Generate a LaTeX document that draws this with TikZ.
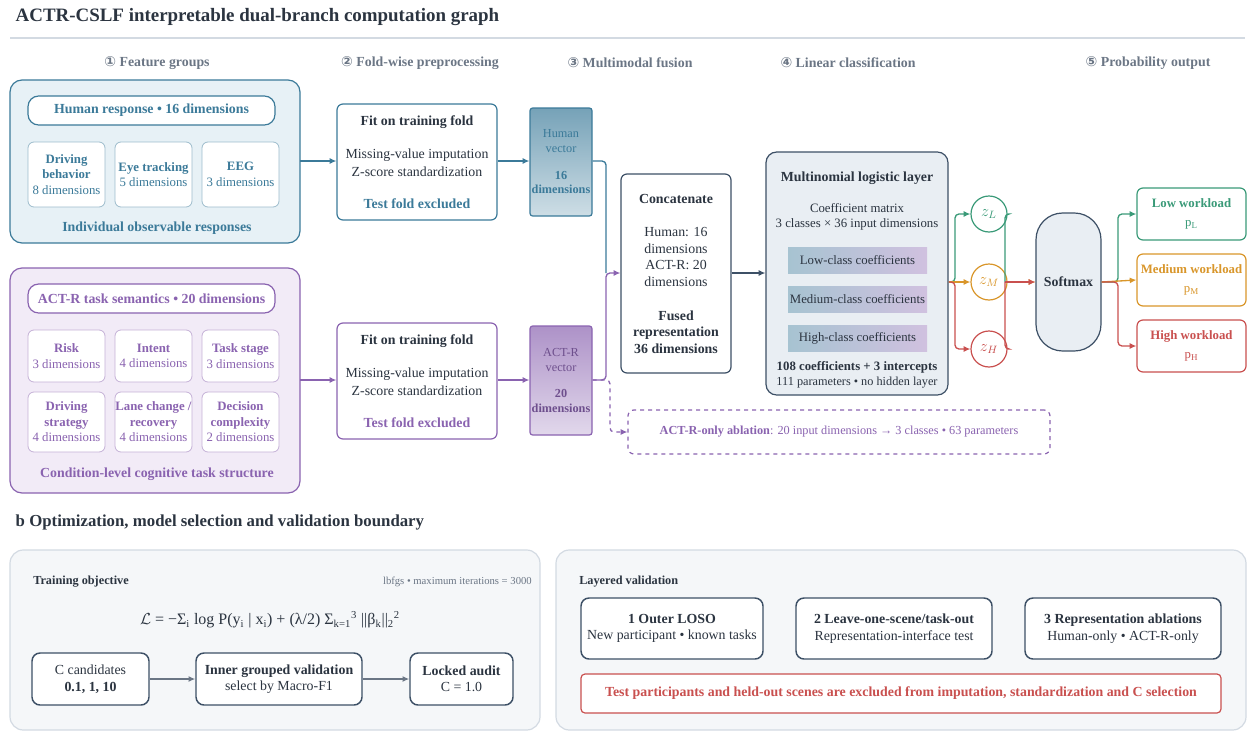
\documentclass[tikz,border=0pt]{standalone}
\usepackage{fontspec}
\setmainfont{Liberation Serif}
\newfontfamily\symf{DejaVu Sans}
\usetikzlibrary{arrows.meta,fit,positioning}
\newcommand\fb{\fontsize{10.4}{12.4}\selectfont}
\newcommand\fsb{\fontsize{9.6}{11.6}\selectfont}
\newcommand\fsm{\fontsize{9.2}{11}\selectfont}
\newcommand\fxs{\fontsize{8}{9.5}\selectfont}
\definecolor{hb}{HTML}{3B7A99}\definecolor{hbf}{HTML}{E7F1F6}
\definecolor{pp}{HTML}{8A63B0}\definecolor{ppf}{HTML}{F2EBF7}
\definecolor{dk}{HTML}{3D5066}\definecolor{dkf}{HTML}{E9EEF3}
\definecolor{gr}{HTML}{3A9A78}\definecolor{og}{HTML}{D9962A}\definecolor{rd}{HTML}{C9504F}
\definecolor{tx}{HTML}{2B3440}\definecolor{gy}{HTML}{6B7685}
\definecolor{pnl}{HTML}{F5F7F9}\definecolor{pnls}{HTML}{D3DAE2}
\tikzset{
 bx/.style={draw,rounded corners=4.5pt,line width=0.9pt,inner sep=0pt},
 fbx/.style={bx,fit={#1}},
 arr/.style={-{Latex[length=5pt,width=4.5pt]},line width=1pt},
 lbl/.style={font=\fb\bfseries,text=gy},
 t/.style={font=\fb,align=center,inner sep=0pt},
}
\begin{document}
\begin{tikzpicture}[x=0.75pt,y=-0.75pt]
\useasboundingbox (0,0) rectangle (1257,739);
% title
\node[anchor=west,font=\fontsize{14.2}{16}\selectfont\bfseries,text=tx] (title) at (11,17) {ACTR-CSLF interpretable dual-branch computation graph};
\draw[pnls,line width=0.8pt] (10,38) -- (1245,38);
\node[lbl] (s1) at (157,63) {{\symf ①} Feature groups};
\node[lbl] (s2) at (420,63) {{\symf ②} Fold-wise preprocessing};
\node[lbl] (s3) at (630,63) {{\symf ③} Multimodal fusion};
\node[lbl] (s4) at (848,63) {{\symf ④} Linear classification};
\node[lbl] (s5) at (1148,63) {{\symf ⑤} Probability output};
% human group
\node[fbx={(10,80)(300,243)},draw=hb,fill=hbf,rounded corners=9pt] (hg) {};
\node[fbx={(28,96)(275,125)},draw=hb,fill=white,rounded corners=8pt] (hp) {};
\node[t,font=\fb\bfseries,text=hb] at (hp) {Human response • 16 dimensions};
\tikzset{hs/.style={draw=hb!50,fill=white,line width=0.6pt}}
\node[fbx={(28,142)(105,207)},hs] (h1) {};
\node[fbx={(115,142)(192,207)},hs] (h2) {};
\node[fbx={(202,142)(279,207)},hs] (h3) {};
\node[t,font=\fsb,text=hb] at (h1) {\textbf{Driving}\\\textbf{behavior}\\8 dimensions};
\node[t,font=\fsb,text=hb] at (h2) {\textbf{Eye tracking}\\5 dimensions};
\node[t,font=\fsb,text=hb] at (h3) {\textbf{EEG}\\3 dimensions};
\node[t,font=\fb\bfseries,text=hb] (hc) at (157,228) {Individual observable responses};
% actr group
\node[fbx={(10,268)(300,493)},draw=pp,fill=ppf,rounded corners=9pt] (ag) {};
\node[fbx={(28,284)(275,313)},draw=pp,fill=white,rounded corners=8pt] (ap) {};
\node[t,font=\fb\bfseries,text=pp] at (ap) {ACT-R task semantics • 20 dimensions};
\tikzset{ab/.style={draw=pp!50,fill=white,line width=0.6pt}}
\node[fbx={(28,330)(105,382)},ab] (a1) {};
\node[fbx={(115,330)(192,382)},ab] (a2) {};
\node[fbx={(202,330)(279,382)},ab] (a3) {};
\node[fbx={(28,392)(105,452)},ab] (a4) {};
\node[fbx={(115,392)(192,452)},ab] (a5) {};
\node[fbx={(202,392)(279,452)},ab] (a6) {};
\node[t,font=\fsb,text=pp] at (a1) {\textbf{Risk}\\3 dimensions};
\node[t,font=\fsb,text=pp] at (a2) {\textbf{Intent}\\4 dimensions};
\node[t,font=\fsb,text=pp] at (a3) {\textbf{Task stage}\\3 dimensions};
\node[t,font=\fsb,text=pp] at (a4) {\textbf{Driving}\\\textbf{strategy}\\4 dimensions};
\node[t,font=\fsb,text=pp] at (a5) {\textbf{Lane change /}\\\textbf{recovery}\\4 dimensions};
\node[t,font=\fsb,text=pp] at (a6) {\textbf{Decision}\\\textbf{complexity}\\2 dimensions};
\node[t,font=\fb\bfseries,text=pp] (acap) at (157,474) {Condition-level cognitive task structure};
% preprocessing
\foreach \n/\c/\y in {hpre/hb/104,apre/pp/323}{
 \node[fbx={(337,\y)(497,\y+116)},draw=\c,fill=white] (\n) {};
 \node[t,font=\fb\bfseries,text=tx] at (417,\y+18) {Fit on training fold};
 \node[t,text=tx] at (417,\y+59) {Missing-value imputation\\[1pt]Z-score standardization};
 \node[t,font=\fb\bfseries,text=\c] at (417,\y+100) {Test fold excluded};
}
\node[fbx={(530,108)(592,216)},draw=hb,top color=hb!70,bottom color=hb!25,rounded corners=2pt] (hv) {};
\node[t,font=\fsm,text=hb] at (hv) {Human\\vector\\[9pt]\textbf{16}\\\textbf{dimensions}};
\node[fbx={(530,326)(592,435)},draw=pp,top color=pp!70,bottom color=pp!25,rounded corners=2pt] (av) {};
\node[t,font=\fsm,text=pp!80!black] at (av) {ACT-R\\vector\\[9pt]\textbf{20}\\\textbf{dimensions}};
\draw[arr,hb] (300,161) -- (hpre.west|-0,161);
\draw[arr,hb] (hpre.east|-0,161) -- (hv.west|-0,161);
\draw[arr,pp] (300,380) -- (apre.west|-0,380);
\draw[arr,pp] (apre.east|-0,380) -- (av.west|-0,380);
% concat
\node[fbx={(621,174)(731,373)},draw=dk,fill=white] (cc) {};
\node[t,font=\fb\bfseries,text=tx] at (676,199) {Concatenate};
\node[t,text=tx] at (676,257) {Human: 16\\dimensions\\ACT-R: 20\\dimensions};
\node[t,font=\fb\bfseries,text=tx] at (676,332) {Fused\\representation\\36 dimensions};
\draw[hb,line width=1pt,rounded corners=3pt] (hv.east|-0,161) -- (606,161) -- (606,273);
\draw[arr,pp,rounded corners=3pt] (av.east|-0,380) -- (606,380) -- (606,273) -- (cc.west|-0,273);
% ablation
\node[fbx={(628,410)(1050,454)},draw=pp,dashed,fill=white] (abl) {};
\node[t,font=\fsm,text=pp] at (abl) {\textbf{ACT-R-only ablation}: 20 input dimensions → 3 classes • 63 parameters};
\draw[arr,pp,dashed,rounded corners=3pt] (av.east|-0,380) -- (610,380) -- (610,432) -- (abl.west|-0,432);
% logistic
\node[fbx={(766,152)(948,395)},draw=dk,fill=dkf,rounded corners=8pt] (lg) {};
\node[t,font=\fb\bfseries,text=tx] at (857,178) {Multinomial logistic layer};
\node[t,font=\fsb,text=tx] at (857,217) {Coefficient matrix\\3 classes × 36 input dimensions};
\foreach \n/\y/\s in {c1/247/Low,c2/286/Medium,c3/325/High}{
 \node[fbx={(788,\y)(927,\y+26)},draw=none,rounded corners=0pt,left color=hb!45,right color=pp!40] (\n) {};
 \node[t,font=\fsb,text=tx] at (\n) {\s-class coefficients};
}
\node[t,font=\fsb,text=tx] at (857,375) {\textbf{108 coefficients + 3 intercepts}\\\fsm 111 parameters • no hidden layer};
\draw[arr,dk,line width=1.3pt] (cc.east|-0,273) -- (lg.west|-0,273);
% z nodes
\tikzset{zc/.style={circle,fill=white,line width=0.9pt,minimum size=27pt,inner sep=0,font=\fontsize{12}{14}\selectfont}}
\node[zc,draw=gr,text=gr] (zl) at (989,214) {$z_L$};
\node[zc,draw=og,text=og] (zm) at (989,282) {$z_M$};
\node[zc,draw=rd,text=rd] (zh) at (989,349) {$z_H$};
\node[fbx={(1036,213)(1101,351)},draw=dk,fill=dkf,rounded corners=20pt] (sm) {};
\node[t,font=\fb\bfseries,text=tx] at (sm) {Softmax};
\draw[arr,gr,rounded corners=3pt] (lg.east|-0,282) -- (955,282) -- (955,214) -- (zl.west);
\draw[arr,og] (lg.east|-0,282) -- (zm.west);
\draw[arr,rd,rounded corners=3pt] (lg.east|-0,282) -- (955,282) -- (955,349) -- (zh.west);
\draw[gr,line width=1pt,rounded corners=3pt] (zl.east) -- (1005,214) -- (1005,282);
\draw[rd,line width=1pt,rounded corners=3pt] (zh.east) -- (1005,349) -- (1005,282);
\draw[arr,og] (zm.east) -- (sm.west|-0,282);
\draw[arr,rd] (1005,282) -- (sm.west|-0,282);
% outputs
\node[fbx={(1137,188)(1246,240)},draw=gr,fill=white] (ol) {};
\node[fbx={(1137,254)(1246,306)},draw=og,fill=white] (om) {};
\node[fbx={(1137,320)(1246,372)},draw=rd,fill=white] (oh) {};
\node[t,font=\fsb,text=gr] at (ol) {\textbf{Low workload}\\[3pt]p\textsubscript{L}};
\node[t,font=\fsb,text=og] at (om) {\textbf{Medium workload}\\[3pt]p\textsubscript{M}};
\node[t,font=\fsb,text=rd] at (oh) {\textbf{High workload}\\[3pt]p\textsubscript{H}};
\draw[arr,gr,rounded corners=3pt] (sm.east|-0,282) -- (1118,282) -- (1118,214) -- (ol.west|-0,214);
\draw[arr,og] (sm.east|-0,282) -- (om.west|-0,280);
\draw[arr,rd,rounded corners=3pt] (sm.east|-0,282) -- (1118,282) -- (1118,346) -- (oh.west|-0,346);
% section b
\node[anchor=west,font=\fontsize{12.6}{14}\selectfont\bfseries,text=tx] (bt) at (11,522) {b Optimization, model selection and validation boundary};
\node[fbx={(10,550)(540,730)},draw=pnls,fill=pnl,rounded corners=10pt] (lp) {};
\node[fbx={(556,550)(1246,730)},draw=pnls,fill=pnl,rounded corners=10pt] (rp) {};
\node[anchor=west,font=\fsm\bfseries,text=tx,inner sep=0] (to) at (33,582) {Training objective};
\node[anchor=east,font=\fxs,text=gy,inner sep=0] (lb) at (532,582) {lbfgs • maximum iterations = 3000};
\node[t,font=\fontsize{12}{14}\selectfont,text=tx] (fm) at (270,620) {$\mathcal{L}$ = −Σ\textsubscript{i} log P(y\textsubscript{i} | x\textsubscript{i}) + (λ/2) Σ\textsubscript{k=1}\textsuperscript{3} ||β\textsubscript{k}||\textsubscript{2}\textsuperscript{2}};
\tikzset{wb/.style={draw=dk,fill=white,line width=1.1pt,rounded corners=6pt}}
\node[fbx={(32,653)(149,705)},wb] (cand) {};
\node[fbx={(196,653)(362,705)},wb] (inner) {};
\node[fbx={(410,653)(513,705)},wb] (lock) {};
\node[t,text=tx] at (cand) {C candidates\\\textbf{0.1, 1, 10}};
\node[t,text=tx] at (inner) {\textbf{Inner grouped validation}\\select by Macro-F1};
\node[t,text=tx] at (lock) {\textbf{Locked audit}\\C = 1.0};
\draw[arr,gy] (cand) -- (inner);
\draw[arr,gy] (inner) -- (lock);
\node[anchor=west,font=\fsm\bfseries,text=tx,inner sep=0] (lv) at (579,582) {Layered validation};
\node[fbx={(581,598)(763,659)},wb] (v1) {};
\node[fbx={(796,598)(992,659)},wb] (v2) {};
\node[fbx={(1025,598)(1221,659)},wb] (v3) {};
\node[t,text=tx] at (v1) {\textbf{1 Outer LOSO}\\New participant • known tasks};
\node[t,text=tx] at (v2) {\textbf{2 Leave-one-scene/task-out}\\Representation-interface test};
\node[t,text=tx] at (v3) {\textbf{3 Representation ablations}\\Human-only • ACT-R-only};
\node[fbx={(581,674)(1221,713)},draw=rd,fill=white,rounded corners=3pt] (ex) {};
\node[t,font=\fb\bfseries,text=rd] at (ex) {Test participants and held-out scenes are excluded from imputation, standardization and C selection};
\end{tikzpicture}
\end{document}
